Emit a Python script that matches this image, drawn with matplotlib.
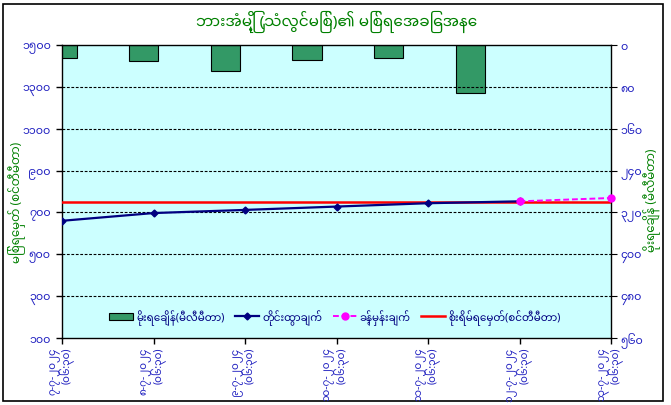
import matplotlib
matplotlib.use("Agg")
import matplotlib.pyplot as plt
from matplotlib.lines import Line2D
from matplotlib.patches import Rectangle
import numpy as np

plt.rcParams['font.family'] = ['Noto Sans Myanmar', 'Padauk', 'DejaVu Sans']

# ---- data ----
dates = ["၇-၇-၂၀၂၄", "၈-၇-၂၀၂၄", "၉-၇-၂၀၂၄", "၁၀-၇-၂၀၂၄", "၁၁-၇-၂၀၂၄", "၁၂-၇-၂၀၂၄", "၁၃-၇-၂၀၂၄"]
times = ["(၀၆:၃၀)"] * 7
observed = [660, 697, 712, 728, 744, 753, np.nan]
forecast = [np.nan, np.nan, np.nan, np.nan, np.nan, 753, 769]
danger = [750] * 7
rain = [25, 31, 49, 29, 25, 92]
left_ticks = [100, 300, 500, 700, 900, 1100, 1300, 1500]
left_labels = ["၁၀၀", "၃၀၀", "၅၀၀", "၇၀၀", "၉၀၀", "၁၁၀၀", "၁၃၀၀", "၁၅၀၀"]
right_ticks = [0, 80, 160, 240, 320, 400, 480, 560]
right_labels = ["၀", "၈၀", "၁၆၀", "၂၄၀", "၃၂၀", "၄၀၀", "၄၈၀", "၅၆၀"]

title = "ဘားအံမြို့ (သံလွင်မြစ်)၏ မြစ်ရေအခြေအနေ"
ylabel_left = "မြစ်ရေမှတ် (စင်တီမီတာ)"
ylabel_right = "မိုးရေချိန် (မီလီမီတာ)"
leg_rain = "မိုးရေချိန်(မီလီမီတာ)"
leg_obs = "တိုင်းထွာချက်"
leg_fc = "ခန့်မှန်းချက်"
leg_danger = "စိုးရိမ်ရေမှတ်(စင်တီမီတာ)"

GREEN = "#008000"
BLUE = "#2020C0"
BG = "#CCFFFF"
W, H = 671, 406

fig = plt.figure(figsize=(6.71, 4.06), dpi=100)
fig.patch.set_facecolor("white")

# chart border
fig.add_artist(Rectangle((3 / W, 1 - 402 / H), 660 / W, 397 / H,
                         transform=fig.transFigure, fill=False, edgecolor="black", lw=1.2))

pos = [62 / W, 1 - 339 / H, (611 - 62) / W, (339 - 46) / H]

# background
bgax = fig.add_axes(pos, zorder=-1)
bgax.set_facecolor(BG)
bgax.set_xticks([]); bgax.set_yticks([])
for s in bgax.spines.values():
    s.set_visible(False)

# rainfall bars (reversed right axis)
axb = fig.add_axes(pos, zorder=0)
axb.patch.set_alpha(0)
axb.set_xlim(0, 6.72)
axb.set_ylim(right_ticks[-1], right_ticks[0])
axb.bar(np.arange(len(rain)), rain, width=0.36, color="#339966", edgecolor="black",
        linewidth=0.8, zorder=2)
axb.set_xticks([])
axb.yaxis.tick_right()
axb.set_yticks(right_ticks)
axb.set_yticklabels(right_labels, color=BLUE, fontsize=8)
axb.tick_params(axis="y", direction="out", length=4, color="black", pad=3)
for s in axb.spines.values():
    s.set_visible(False)

# main axes
ax = fig.add_axes(pos, zorder=1)
ax.patch.set_alpha(0)
x = np.arange(len(dates))
ax.set_xlim(x[0], x[-1])
ax.set_ylim(left_ticks[0], left_ticks[-1])

for t in left_ticks[1:-1]:
    ax.axhline(t, color="black", lw=0.8, ls=(0, (2.5, 1.5)), zorder=1)

ax.plot(x, danger, color="#FF0000", lw=1.8, zorder=3)
ax.plot(x, observed, color="#000080", lw=1.6, marker="D", ms=3.5, zorder=4)
ax.plot(x, forecast, color="#FF00FF", lw=1.4, ls=(0, (3, 1.5)), marker="o", ms=5,
        zorder=5, clip_on=False)

ax.set_yticks(left_ticks)
ax.set_yticklabels(left_labels, color=BLUE, fontsize=8)
ax.set_xticks(x)
ax.set_xticklabels([d + "\n" + t for d, t in zip(dates, times)], rotation=90,
                   color=BLUE, fontsize=7.5, ha="center", va="top", multialignment="right",
                   linespacing=0.9)
ax.tick_params(axis="both", direction="out", length=4, width=1, color="black")
ax.tick_params(axis="x", pad=2)
ax.tick_params(axis="y", pad=4)
for s in ax.spines.values():
    s.set_color("black"); s.set_linewidth(1)

fig.text(17 / W, 1 - 202 / H, ylabel_left, rotation=90, color=GREEN, fontsize=8.5,
         ha="center", va="center")
fig.text(652 / W, 1 - 200 / H, ylabel_right, rotation=90, color=GREEN, fontsize=8.5,
         ha="center", va="center")

fig.text(337 / W, 1 - 22 / H, title, color=GREEN, fontsize=11, fontweight="bold",
         ha="center", va="center")

handles = [Rectangle((0, 0), 1, 1, facecolor="#339966", edgecolor="black", lw=0.8),
           Line2D([], [], color="#000080", lw=1.6, marker="D", ms=3.5),
           Line2D([], [], color="#FF00FF", lw=1.4, ls=(0, (3, 1.5)), marker="o", ms=5),
           Line2D([], [], color="#FF0000", lw=1.8)]
leg = ax.legend(handles, [leg_rain, leg_obs, leg_fc, leg_danger], ncol=4, frameon=False,
                loc="center", bbox_to_anchor=(0.497, (339 - 318) / (339 - 46)), fontsize=7.5,
                handlelength=2.3, columnspacing=1.0, handletextpad=0.3)
for t in leg.get_texts():
    t.set_color("#000080")

fig.savefig("out.png", dpi=100)
